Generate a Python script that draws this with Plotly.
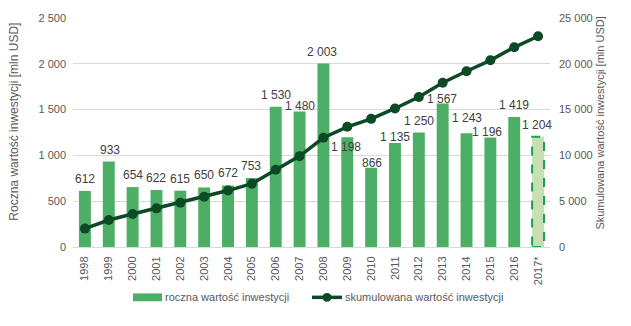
import plotly.graph_objects as go

years = ["1998", "1999", "2000", "2001", "2002", "2003", "2004", "2005", "2006", "2007",
         "2008", "2009", "2010", "2011", "2012", "2013", "2014", "2015", "2016", "2017*"]
annual = [612, 933, 654, 622, 615, 650, 672, 753, 1530, 1480,
          2003, 1198, 866, 1135, 1250, 1567, 1243, 1196, 1419, 1204]
cumulative = [2010, 2945, 3600, 4220, 4835, 5485, 6160, 6910, 8440, 9920,
              11925, 13120, 13990, 15125, 16375, 17940, 19185, 20380, 21800, 23005]
legend_labels = ["roczna wartość inwestycji", "skumulowana wartość inwestycji"]
y1_title = "Roczna wartość inwestycji [mln USD]"
y2_title = "Skumulowana wartość inwestycji [mln USD]"

# styling
BAR = "#4daf66"
BAR_EST = "#c6e0b4"
BAR_EST_LINE = "#1e9e52"
LINE = "#0c4a26"
TXT = "#404040"
TICK = "#595959"
GRID = "#d9d9d9"
FONT = "Liberation Sans, Arial, sans-serif"
BAR_W = 0.5
# per-label offsets (px) relative to default placement above bar
label_dy = [0, 0, 0, 0, 0, 0, 0, 0, 0, -6.5, 0, -22, -7, -5.5, 0, -8, 3, -7, 0, 0]
label_dx = [0, 1, 0, 0, 0, 0, 0, -1, 0, 0, -1, -1, 1, 0, 0, -1, 0, -3, 0, -1]

def fmt(v):
    return f"{v:,}".replace(",", " ")

n = len(years)
colors = [BAR] * (n - 1) + [BAR_EST]

fig = go.Figure()
fig.add_trace(go.Bar(x=years, y=annual, marker=dict(color=colors, line=dict(width=0)),
                     width=BAR_W, name=legend_labels[0], showlegend=False, yaxis="y"))
fig.add_trace(go.Scatter(x=years, y=cumulative, mode="lines+markers", yaxis="y2",
                         line=dict(color=LINE, width=3.5),
                         marker=dict(color=LINE, size=10),
                         name=legend_labels[1], showlegend=False))

shapes = []
# dashed outline of the estimated (last) bar
last = n - 1
shapes.append(dict(type="rect", xref="x", yref="y",
                   x0=last - BAR_W / 2, x1=last + BAR_W / 2, y0=0, y1=annual[last],
                   line=dict(color=BAR_EST_LINE, width=2, dash="dash"),
                   fillcolor="rgba(0,0,0,0)", layer="above"))

annotations = []
for i, v in enumerate(annual):
    annotations.append(dict(x=i, y=v, xref="x", yref="y", text=fmt(v), showarrow=False,
                            yanchor="middle", xanchor="center",
                            yshift=12 + label_dy[i], xshift=label_dx[i],
                            font=dict(family=FONT, size=12, color=TXT)))

# axis titles
annotations.append(dict(x=(14 - 73) / 477, y=(247 - 120) / 232, xref="paper", yref="paper",
                        text=y1_title, textangle=-90, showarrow=False,
                        xanchor="center", yanchor="middle",
                        font=dict(family=FONT, size=12, color=TICK)))
annotations.append(dict(x=(600 - 73) / 477, y=(247 - 122) / 232, xref="paper", yref="paper",
                        text=y2_title, textangle=-90, showarrow=False,
                        xanchor="center", yanchor="middle",
                        font=dict(family=FONT, size=11, color=TICK)))

# manual legend
def px(xp):
    return (xp - 73) / 477
ly = (247 - 298) / 232
shapes.append(dict(type="rect", xref="paper", yref="paper",
                   x0=px(133), x1=px(162), y0=(247 - 302) / 232, y1=(247 - 294) / 232,
                   fillcolor=BAR, line=dict(width=0)))
shapes.append(dict(type="line", xref="paper", yref="paper",
                   x0=px(312), x1=px(342), y0=ly, y1=ly,
                   line=dict(color=LINE, width=3.5)))
shapes.append(dict(type="circle", xref="paper", yref="paper",
                   x0=px(322.5), x1=px(331.5), y0=(247 - 302.5) / 232, y1=(247 - 293.5) / 232,
                   fillcolor=LINE, line=dict(width=0)))
annotations.append(dict(x=px(163), y=ly, xref="paper", yref="paper", text=legend_labels[0],
                        showarrow=False, xanchor="left", yanchor="middle",
                        font=dict(family=FONT, size=11, color=TICK)))
annotations.append(dict(x=px(343), y=ly, xref="paper", yref="paper", text=legend_labels[1],
                        showarrow=False, xanchor="left", yanchor="middle",
                        font=dict(family=FONT, size=11, color=TICK)))

fig.update_layout(
    width=631, height=326,
    margin=dict(l=73, r=81, t=15, b=79),
    paper_bgcolor="white", plot_bgcolor="white",
    separators=", ",
    showlegend=False,
    bargap=0.5,
    font=dict(family=FONT, size=11, color=TICK),
    xaxis=dict(type="category", tickangle=-90, showgrid=False, showline=True,
               linecolor=GRID, linewidth=1, ticks="", ticklabelstandoff=4,
               tickfont=dict(family=FONT, size=11, color=TICK), range=[-0.5, n - 0.5]),
    yaxis=dict(range=[0, 2500], dtick=500, tickformat=",d", showgrid=True,
               gridcolor=GRID, gridwidth=1, zeroline=False, showline=False, ticks="",
               ticklabelstandoff=6,
               tickfont=dict(family=FONT, size=11, color=TICK)),
    yaxis2=dict(range=[0, 25000], dtick=5000, tickformat=",d", overlaying="y",
                side="right", showgrid=False, zeroline=False, showline=False, ticks="",
                ticklabelstandoff=8,
                tickfont=dict(family=FONT, size=11, color=TICK)),
    shapes=shapes,
    annotations=annotations,
)

fig.write_html("out.html")
